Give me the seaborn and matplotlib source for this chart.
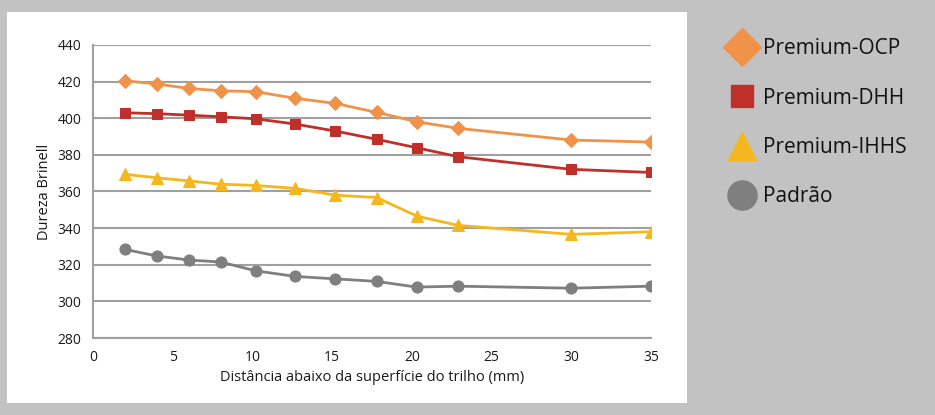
import pandas as pd
import seaborn as sns
import matplotlib.pyplot as plt
from matplotlib.lines import Line2D
from matplotlib.patches import Rectangle

# Distância abaixo da superfície (mm)
distancia = [2, 4, 6, 8, 10.2, 12.7, 15.2, 17.8, 20.3, 22.9, 30, 35]

# Dureza Brinell por tipo de trilho
ocp = [420.5, 418.7, 416.3, 415.0, 414.5, 410.9, 408.1, 403.2, 398.1, 394.5, 388.1, 387.0]
dhh = [403.0, 402.5, 401.7, 400.8, 399.7, 396.8, 393.0, 388.5, 383.9, 379.0, 372.1, 370.4]
ihhs = [369.4, 367.5, 365.8, 364.0, 363.3, 361.7, 358.0, 356.7, 346.6, 341.5, 336.6, 338.0]
padrao = [328.4, 324.8, 322.6, 321.5, 316.7, 313.6, 312.3, 310.9, 307.8, 308.3, 307.2, 308.3]

series = ['Premium-OCP', 'Premium-DHH', 'Premium-IHHS', 'Padrão']
valores = [ocp, dhh, ihhs, padrao]
cores = ['#f0924a', '#c0302a', '#f5b71e', '#7f7f7f']
marcadores = ['D', 's', '^', 'o']
tam = [7.5, 7.5, 8.5, 8]

xticks = [0, 5, 10, 15, 20, 25, 30, 35]
yticks = [280, 300, 320, 340, 360, 380, 400, 420, 440]

sns.set_style('white')
plt.rcParams['font.family'] = ['Open Sans', 'DejaVu Sans']

fig = plt.figure(figsize=(9.35, 4.15), dpi=100)
fig.patch.set_facecolor('#c3c2c2')
fig.patches.append(Rectangle((7/935, 12/415), 680/935, 391/415, transform=fig.transFigure,
                             facecolor='white', edgecolor='none', zorder=-1))

ax = fig.add_axes([93/935, 77/415, 558/935, 293/415])
ax.set_zorder(2)
ax.set_facecolor('none')

for nome, v, c, m, s in zip(series, valores, cores, marcadores, tam):
    sns.lineplot(x=distancia, y=v, ax=ax, color=c, marker=m, markersize=s,
                 markeredgecolor=c, linewidth=2, label=nome, zorder=3)

ax.set_xlim(0, 35)
ax.set_ylim(280, 440)
ax.set_xticks(xticks)
ax.set_yticks(yticks)
ax.yaxis.grid(True, color='#a0a0a0', linewidth=1.5)
ax.set_axisbelow(True)
for lado in ['top', 'right']:
    ax.spines[lado].set_visible(False)
for lado in ['left', 'bottom']:
    ax.spines[lado].set_color('#a0a0a0')
    ax.spines[lado].set_linewidth(1.5)
ax.tick_params(axis='both', length=5, width=1.5, color='#a0a0a0', labelsize=10, labelcolor='#1a1a1a')
ax.set_xlabel('Distância abaixo da superfície do trilho (mm)', fontsize=10.5, color='#1a1a1a')
ax.set_ylabel('Dureza Brinell', fontsize=10.5, color='#1a1a1a')
ax.get_legend().remove()

# legenda fora do painel branco
proxies = [Line2D([], [], linestyle='none', marker=m, color=c, markersize=ms)
           for c, m, ms in zip(cores, marcadores, [19, 16, 20, 21])]
fig.legend(proxies, series, loc='upper left', bbox_to_anchor=(718/935, 1 - 30/415),
           frameon=False, fontsize=15, labelspacing=1.36, handletextpad=0.25,
           handlelength=1.5, borderaxespad=0, labelcolor='#111111')

plt.savefig('out.png', dpi=100, facecolor=fig.get_facecolor())
